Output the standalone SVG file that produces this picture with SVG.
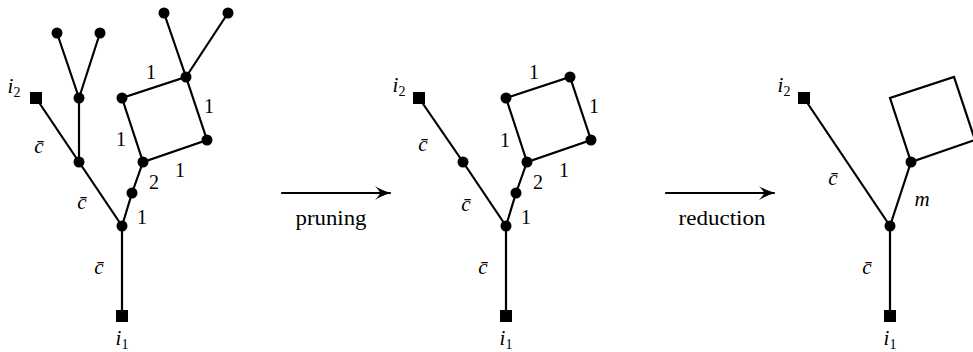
<svg xmlns="http://www.w3.org/2000/svg" width="973" height="352" viewBox="0 0 973 352">
<style>
.e{stroke:#000;stroke-width:2.2;fill:none;stroke-linecap:round}
.t{font-family:"Liberation Serif","Times New Roman",serif;font-size:20px;fill:#000;text-anchor:middle}
.it{font-style:italic;font-size:21px}
.sub{font-size:14px;font-style:normal}
</style>
<defs>
<marker id="ah" viewBox="-16 -8 18 16" markerWidth="18" markerHeight="16" refX="0" refY="0" orient="auto" markerUnits="userSpaceOnUse">
<path d="M1,0 Q-9,-3 -15,-7 Q-10,-1.5 -10,0 Q-10,1.5 -15,7 Q-9,3 1,0 Z" fill="#000"/>
</marker>
<circle id="dot" r="5.5" fill="#000"/>
<rect id="sq" x="-6" y="-6" width="12" height="12" fill="#000"/>
</defs>
<rect width="973" height="352" fill="#fff"/>
<g id="connectors">
<path class="e" d="M57,33 L79,98 M100,33 L79,98 M79,98 L79,162 M36,98 L79,162 L122,226 L122,316 M122,226 L132,193 L143,162 M143,162 L122,98 L186,77 L207,140 Z M186,77 L164,13 M186,77 L228,13"/>
<path class="e" d="M419,98 L463,162 L506,226 L506,316 M506,226 L516,193 L527,162 M527,162 L506,98 L570,77 L591,140 Z"/>
<path class="e" d="M804,98 L890,226 L890,316 M890,226 L911,162 M911,162 L890,98 L954,77 L975,140 Z"/>
<line class="e" x1="282" y1="193" x2="390" y2="193" marker-end="url(#ah)" stroke-linecap="butt"/>
<line class="e" x1="666" y1="193" x2="774" y2="193" marker-end="url(#ah)" stroke-linecap="butt"/>
</g>
<g id="graph-left">
<use href="#dot" x="57" y="33"/><use href="#dot" x="100" y="33"/>
<use href="#dot" x="79" y="98"/><use href="#dot" x="79" y="162"/>
<use href="#dot" x="164" y="13"/><use href="#dot" x="228" y="13"/>
<use href="#dot" x="186" y="77"/><use href="#dot" x="122" y="98"/>
<use href="#dot" x="207" y="140"/><use href="#dot" x="143" y="162"/>
<use href="#dot" x="132" y="193"/><use href="#dot" x="122" y="226"/>
<use href="#sq" x="36" y="98"/><use href="#sq" x="122" y="316"/>
<text class="t it" x="14" y="93">i<tspan class="sub" dy="4">2</tspan></text>
<text class="t it" x="122" y="345">i<tspan class="sub" dy="4">1</tspan></text>
<text class="t it" x="39" y="153">c̄</text>
<text class="t it" x="82" y="209">c̄</text>
<text class="t it" x="99" y="274">c̄</text>
<text class="t" x="151" y="79">1</text>
<text class="t" x="209" y="113">1</text>
<text class="t" x="121" y="146">1</text>
<text class="t" x="180" y="177">1</text>
<text class="t" x="154" y="189">2</text>
<text class="t" x="142" y="224">1</text>
</g>
<g id="label-pruning">
<text class="t" x="331" y="225" textLength="71" lengthAdjust="spacingAndGlyphs">pruning</text>
</g>
<g id="graph-middle">
<use href="#dot" x="463" y="162"/>
<use href="#dot" x="570" y="77"/><use href="#dot" x="506" y="98"/>
<use href="#dot" x="591" y="140"/><use href="#dot" x="527" y="162"/>
<use href="#dot" x="516" y="193"/><use href="#dot" x="506" y="226"/>
<use href="#sq" x="419" y="98"/><use href="#sq" x="506" y="316"/>
<text class="t it" x="399" y="92">i<tspan class="sub" dy="4">2</tspan></text>
<text class="t it" x="506" y="345">i<tspan class="sub" dy="4">1</tspan></text>
<text class="t it" x="423" y="151">c̄</text>
<text class="t it" x="466" y="211">c̄</text>
<text class="t it" x="483" y="274">c̄</text>
<text class="t" x="534" y="79">1</text>
<text class="t" x="594" y="113">1</text>
<text class="t" x="505" y="147">1</text>
<text class="t" x="564" y="177">1</text>
<text class="t" x="538" y="189">2</text>
<text class="t" x="526" y="224">1</text>
</g>
<g id="label-reduction">
<text class="t" x="722" y="225" textLength="87" lengthAdjust="spacingAndGlyphs">reduction</text>
</g>
<g id="graph-right">
<use href="#dot" x="911" y="162"/><use href="#dot" x="890" y="226"/>
<use href="#sq" x="804" y="98"/><use href="#sq" x="890" y="316"/>
<text class="t it" x="784" y="92">i<tspan class="sub" dy="4">2</tspan></text>
<text class="t it" x="890" y="345">i<tspan class="sub" dy="4">1</tspan></text>
<text class="t it" x="833" y="185">c̄</text>
<text class="t it" x="922" y="206">m</text>
<text class="t it" x="867" y="274">c̄</text>
</g>
</svg>
